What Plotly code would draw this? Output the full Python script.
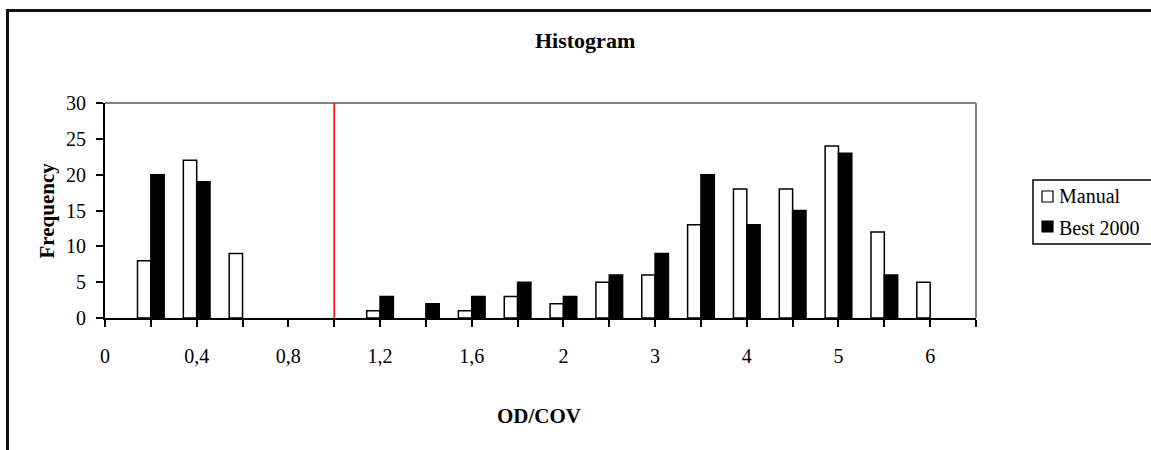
import plotly.graph_objects as go

# ---- data ----
bins = ["0", "0,2", "0,4", "0,6", "0,8", "1", "1,2", "1,4", "1,6", "1,8",
        "2", "2,5", "3", "3,5", "4", "4,5", "5", "5,5", "6"]
manual = [0, 8, 22, 9, 0, 0, 1, 0, 1, 3, 2, 5, 6, 13, 18, 18, 24, 12, 5]
best2000 = [0, 20, 19, 0, 0, 0, 3, 2, 3, 5, 3, 6, 9, 20, 13, 15, 23, 6, 0]
series_names = ["Manual", "Best 2000"]
shown_labels = ["0", "0,4", "0,8", "1,2", "1,6", "2", "3", "4", "5", "6"]
threshold_bin = "1"
title_text = "Histogram"
x_title = "OD/COV"
y_title = "Frequency"

# ---- layout geometry (pixels) ----
W, H = 1151, 450
L, R, T, B = 105, 175, 103, 132
PW, PH = W - L - R, H - T - B
FONT = "Liberation Serif, Times New Roman, serif"


def px(x):
    return (x - L) / PW


def py(y):
    return (H - B - y) / PH


def drawn(vals):
    # empty bins draw no bar at all
    return [v if v else None for v in vals]


xpos = list(range(len(bins)))
tickvals = list(range(len(bins) + 1))
ticktext = [b if b in shown_labels else "" for b in bins] + [""]

fig = go.Figure()
fig.add_trace(go.Bar(x=xpos, y=drawn(manual), name=series_names[0],
                     marker=dict(color="white", line=dict(color="black", width=1.5)),
                     showlegend=False))
fig.add_trace(go.Bar(x=xpos, y=drawn(best2000), name=series_names[1],
                     marker=dict(color="black", line=dict(color="black", width=1.5)),
                     showlegend=False))

shapes = []
# outer chart frame
shapes.append(dict(type="rect", xref="paper", yref="paper",
                   x0=px(7.5), x1=px(1170), y0=py(470), y1=py(10.5),
                   line=dict(color="#111", width=3), layer="below"))
# plot area border top/right (gray)
shapes.append(dict(type="line", xref="paper", yref="paper", x0=0, x1=1, y0=1, y1=1,
                   line=dict(color="#808080", width=2)))
shapes.append(dict(type="line", xref="paper", yref="paper", x0=1, x1=1, y0=0, y1=1,
                   line=dict(color="#808080", width=2)))
# red threshold line
ti = bins.index(threshold_bin)
shapes.append(dict(type="line", xref="x", yref="y", x0=ti, x1=ti, y0=0, y1=30,
                   line=dict(color="red", width=1.5)))
# legend box
shapes.append(dict(type="rect", xref="paper", yref="paper",
                   x0=px(1033), x1=px(1170), y0=py(244), y1=py(180),
                   line=dict(color="black", width=1.5)))
shapes.append(dict(type="rect", xref="paper", yref="paper",
                   x0=px(1042), x1=px(1053), y0=py(202), y1=py(191),
                   line=dict(color="black", width=1.2), fillcolor="white"))
shapes.append(dict(type="rect", xref="paper", yref="paper",
                   x0=px(1042), x1=px(1053), y0=py(232), y1=py(221),
                   line=dict(color="black", width=1.2), fillcolor="black"))

annotations = [
    dict(text="<b>%s</b>" % title_text, xref="paper", yref="paper", x=px(585), y=py(40),
         xanchor="center", yanchor="middle", showarrow=False,
         font=dict(family=FONT, size=22, color="black")),
    dict(text="<b>%s</b>" % y_title, xref="paper", yref="paper", x=px(46), y=0.5,
         xanchor="center", yanchor="middle", showarrow=False, textangle=-90,
         font=dict(family=FONT, size=21, color="black")),
    dict(text="<b>%s</b>" % x_title, xref="paper", yref="paper", x=px(539), y=py(416),
         xanchor="center", yanchor="middle", showarrow=False,
         font=dict(family=FONT, size=21, color="black")),
    dict(text=series_names[0], xref="paper", yref="paper", x=px(1057), y=py(196),
         xanchor="left", yanchor="middle", showarrow=False,
         font=dict(family=FONT, size=20, color="black")),
    dict(text=series_names[1], xref="paper", yref="paper", x=px(1057), y=py(228),
         xanchor="left", yanchor="middle", showarrow=False,
         font=dict(family=FONT, size=20, color="black")),
]

fig.update_layout(
    width=W, height=H,
    margin=dict(l=L, r=R, t=T, b=B, pad=0),
    paper_bgcolor="white", plot_bgcolor="white",
    barmode="group", bargap=0.418, bargroupgap=0,
    shapes=shapes, annotations=annotations,
    font=dict(family=FONT, size=20, color="black"),
    showlegend=False,
)
fig.update_xaxes(range=[0, len(bins)], tickmode="array", tickvals=tickvals, ticktext=ticktext,
                 showgrid=False, zeroline=False, showline=True, linecolor="black", linewidth=2,
                 ticks="outside", ticklen=7, tickwidth=1.5, tickcolor="black",
                 ticklabelstandoff=12, tickfont=dict(family=FONT, size=20, color="black"))
fig.update_yaxes(range=[0, 30], tickmode="array", tickvals=[0, 5, 10, 15, 20, 25, 30],
                 showgrid=False, zeroline=False, showline=True, linecolor="black", linewidth=2,
                 ticks="outside", ticklen=7, tickwidth=1.5, tickcolor="black",
                 ticklabelstandoff=6, tickfont=dict(family=FONT, size=20, color="black"))

fig.write_html("out.html")
